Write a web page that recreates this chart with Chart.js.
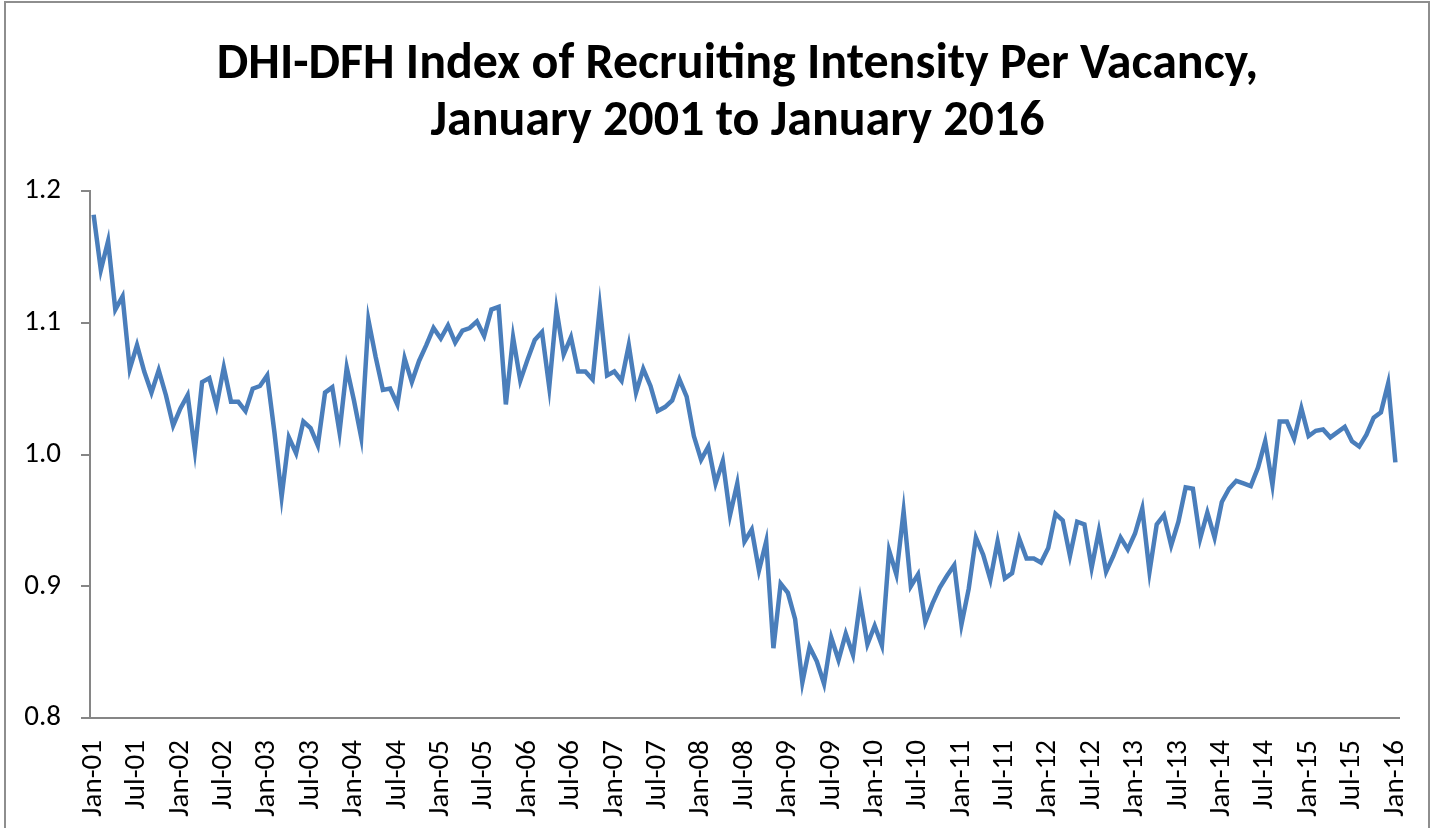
<!DOCTYPE html>
<html>
<head>
<meta charset="utf-8">
<script src="https://cdn.jsdelivr.net/npm/chart.js@4.4.0/dist/chart.umd.min.js"></script>
<style>
  body { margin: 0; background: #fff; }
  #wrap { position: relative; width: 1439px; height: 828px; overflow: hidden; }
  #frame { position: absolute; left: 4px; top: 1px; width: 1426px; height: 840px; border: 2px solid #8e8e8e; box-sizing: border-box; pointer-events: none; }
  canvas { position: absolute; left: 0; top: 0; }
</style>
</head>
<body>
<div id="wrap">
  <canvas id="recruitChart" width="1439" height="828"></canvas>
  <div id="frame"></div>
</div>
<script>
// monthly index, Jan 2001 .. Jan 2016
const monthNames = ['Jan', 'Feb', 'Mar', 'Apr', 'May', 'Jun', 'Jul', 'Aug', 'Sep', 'Oct', 'Nov', 'Dec'];
const startYear = 2001;
const endYear = 2016;

const intensity = [
  1.182, 1.140, 1.162, 1.110, 1.120, 1.065, 1.083, 1.063, 1.047, 1.064, 1.045, 1.022,
  1.035, 1.045, 1.003, 1.055, 1.058, 1.037, 1.066, 1.040, 1.040, 1.033, 1.050, 1.052,
  1.060, 1.017, 0.968, 1.013, 1.001, 1.025, 1.020, 1.007, 1.047, 1.051, 1.017, 1.066,
  1.041, 1.013, 1.102, 1.074, 1.049, 1.050, 1.038, 1.073, 1.055, 1.071, 1.083, 1.096,
  1.088, 1.098, 1.085, 1.094, 1.096, 1.101, 1.090, 1.110, 1.112, 1.038, 1.089, 1.056,
  1.072, 1.087, 1.093, 1.051, 1.110, 1.076, 1.089, 1.063, 1.063, 1.057, 1.112, 1.060,
  1.063, 1.056, 1.083, 1.047, 1.065, 1.052, 1.033, 1.036, 1.041, 1.057, 1.044, 1.014,
  0.996, 1.006, 0.978, 0.995, 0.954, 0.978, 0.934, 0.943, 0.912, 0.934, 0.853, 0.902,
  0.895, 0.875, 0.827, 0.854, 0.843, 0.826, 0.861, 0.844, 0.864, 0.848, 0.889, 0.856,
  0.870, 0.855, 0.927, 0.909, 0.957, 0.900, 0.909, 0.873, 0.887, 0.899, 0.908, 0.916,
  0.871, 0.898, 0.937, 0.924, 0.905, 0.934, 0.906, 0.910, 0.936, 0.921, 0.921, 0.918,
  0.929, 0.955, 0.950, 0.923, 0.949, 0.947, 0.914, 0.942, 0.911, 0.923, 0.937, 0.928,
  0.940, 0.959, 0.911, 0.947, 0.954, 0.931, 0.949, 0.975, 0.974, 0.936, 0.956, 0.937,
  0.964, 0.974, 0.980, 0.978, 0.976, 0.990, 1.010, 0.977, 1.025, 1.025, 1.012, 1.035,
  1.014, 1.018, 1.019, 1.013, 1.017, 1.021, 1.010, 1.006, 1.015, 1.028, 1.032, 1.054,
  0.994
];

const yTicks = [0.8, 0.9, 1.0, 1.1, 1.2];
const labelEvery = 6;

const months = [];
for (let y = startYear; y <= endYear; y++) {
  for (let m = 0; m < 12; m++) {
    if (y === endYear && m > 0) break;
    months.push(monthNames[m] + '-' + String(y).slice(2));
  }
}

const axisGrey = '#868686';
const fontFamily = "Carlito, Lato, 'Open Sans', sans-serif";

// the original title is centred a little right of the canvas middle
const shiftTitle = {
  id: 'shiftTitle',
  afterLayout(chart) {
    if (chart.titleBlock) chart.titleBlock.left = 76;
  }
};

const ctx = document.getElementById('recruitChart').getContext('2d');

const recruitChart = new Chart(ctx, {
  type: 'line',
  data: {
    labels: months,
    datasets: [{
      label: 'Recruiting intensity per vacancy',
      data: intensity,
      borderColor: '#4a7ebb',
      borderWidth: 4.5,
      pointRadius: 0,
      tension: 0,
      fill: false
    }]
  },
  options: {
    responsive: false,
    animation: false,
    layout: { padding: { left: 0, right: 40, top: 0, bottom: 0 } },
    plugins: {
      legend: { display: false },
      tooltip: { enabled: false },
      title: {
        display: true,
        text: ['DHI-DFH Index of Recruiting Intensity Per Vacancy,', 'January 2001 to January 2016'],
        color: '#000',
        font: { family: fontFamily, size: 50, weight: 'bold', lineHeight: 1.14 },
        padding: { top: 37, bottom: 40 }
      }
    },
    scales: {
      x: {
        type: 'category',
        offset: true,
        grid: { display: false, drawTicks: false },
        border: { display: true, color: axisGrey, width: 2 },
        ticks: {
          autoSkip: false,
          minRotation: 90,
          maxRotation: 90,
          padding: 22,
          color: '#000',
          font: { family: fontFamily, size: 29 },
          callback: function (value, index) {
            return index % labelEvery === 0 ? months[index] : null;
          }
        },
        afterFit: function (scale) {
          scale.height = 110;
          scale.paddingLeft = 0;
          scale.paddingRight = 0;
        }
      },
      y: {
        min: 0.8,
        max: 1.2,
        grid: { drawOnChartArea: false, drawTicks: true, tickLength: 9, color: axisGrey, lineWidth: 2 },
        border: { display: true, color: axisGrey, width: 2 },
        afterBuildTicks: function (scale) {
          scale.ticks = yTicks.map(v => ({ value: v }));
        },
        ticks: {
          padding: 20,
          color: '#000',
          font: { family: fontFamily, size: 29 },
          callback: v => v.toFixed(1)
        },
        afterFit: function (scale) { scale.width = 90; }
      }
    }
  },
  plugins: [shiftTitle]
});
</script>
</body>
</html>
